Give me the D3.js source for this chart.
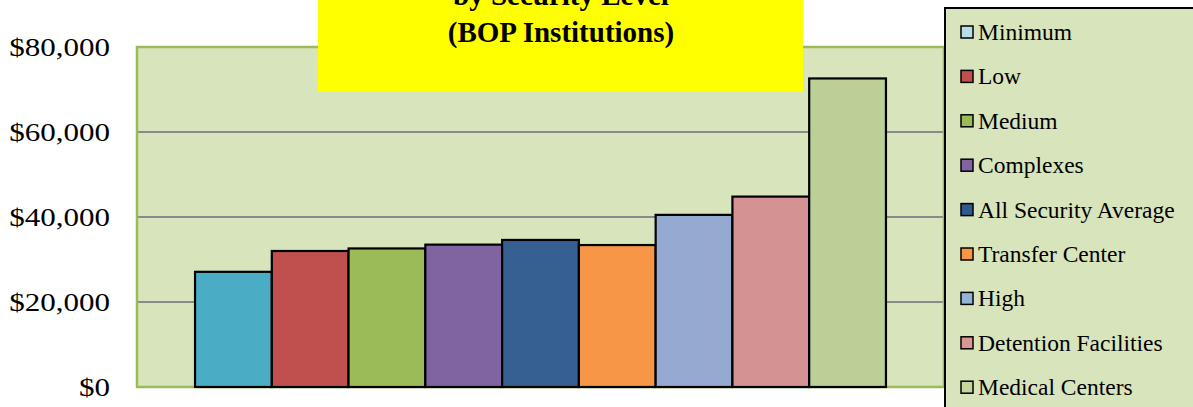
<!DOCTYPE html>
<html>
<head>
<meta charset="utf-8">
<script src="https://cdn.jsdelivr.net/npm/d3@7/dist/d3.min.js"></script>
<style>
  body { margin: 0; background: #fff; }
  svg { display: block; }
  svg text { font-family: "Liberation Serif", "Times New Roman", Times, serif; }
</style>
</head>
<body>
<div id="chart"></div>
<script>
// Data
const categories = ["BOP Institutions"];
const series = ["Minimum", "Low", "Medium", "Complexes", "All Security Average",
    "Transfer Center", "High", "Detention Facilities", "Medical Centers"];
const costs = [27100, 32000, 32600, 33500, 34600, 33400, 40500, 44800, 72600];
const yTicks = [0, 20000, 40000, 60000, 80000];
const titleLines = ["by Security Level", "(BOP Institutions)"];

// Colours of the bars and of the legend swatches
const barColors = ["#4BACC6", "#C0504D", "#9BBB59", "#8064A2", "#366092",
    "#F79646", "#95AAD1", "#D49292", "#BBCF96"];
const swatchColors = ["#B7DEE8", "#C0504D", "#9BBB59", "#8064A2", "#2F5A8E",
    "#F79646", "#95B3D7", "#D99694", "#C3D69B"];

const width = 1193, height = 407;
const plot = { left: 137, right: 944, top: 47, bottom: 387 };
const font = '"Liberation Serif", "Times New Roman", Times, serif';

const svg = d3.select("#chart")
    .append("svg")
    .attr("width", width)
    .attr("height", height);

// Scales
const y = d3.scaleLinear()
    .domain([0, 80000])
    .range([plot.bottom, plot.top]);

const x0 = d3.scaleBand()
    .domain(categories)
    .range([plot.left, plot.right])
    .paddingInner(0)
    .paddingOuter(0.084);

const x1 = d3.scaleBand()
    .domain(series)
    .range([0, x0.bandwidth()])
    .padding(0);

// Plot area background
svg.append("rect")
    .attr("x", plot.left)
    .attr("y", plot.top)
    .attr("width", plot.right - plot.left)
    .attr("height", plot.bottom - plot.top)
    .attr("fill", "#D8E4BC");

// Gridlines
svg.append("g")
    .selectAll("line")
    .data(yTicks.filter(d => d > 0 && d < 80000))
    .enter()
    .append("line")
    .attr("x1", plot.left)
    .attr("x2", plot.right)
    .attr("y1", d => y(d))
    .attr("y2", d => y(d))
    .attr("stroke", "#8A8A8A")
    .attr("stroke-width", 2);

// Plot area border
svg.append("rect")
    .attr("x", plot.left)
    .attr("y", plot.top)
    .attr("width", plot.right - plot.left)
    .attr("height", plot.bottom - plot.top)
    .attr("fill", "none")
    .attr("stroke", "#9BBB59")
    .attr("stroke-width", 2.5);

// Y axis labels (the original font is drawn a little wide)
const yAxis = svg.append("g")
    .attr("transform", `translate(110, 0)`)
    .call(d3.axisLeft(y).tickValues(yTicks).tickSize(0).tickPadding(0)
        .tickFormat(d => "$" + d3.format(",")(d)));
yAxis.attr("font-family", null);
yAxis.select(".domain").remove();
yAxis.selectAll("text")
    .style("font-family", font)
    .style("font-size", "25px")
    .attr("fill", "#000")
    .attr("dy", "0.34em")
    .each(function() {
        const w = this.getComputedTextLength();
        d3.select(this)
            .attr("textLength", w * 1.24)
            .attr("lengthAdjust", "spacingAndGlyphs");
    });

// Bars
const barData = series.map((s, i) => ({ category: categories[0], name: s, value: costs[i], color: barColors[i] }));

svg.append("g")
    .selectAll("rect")
    .data(barData)
    .enter()
    .append("rect")
    .attr("x", d => x0(d.category) + x1(d.name))
    .attr("y", d => y(d.value))
    .attr("width", x1.bandwidth())
    .attr("height", d => y(0) - y(d.value))
    .attr("fill", d => d.color)
    .attr("stroke", "#000")
    .attr("stroke-width", 2.2);

// Title box
const title = svg.append("g");
title.append("rect")
    .attr("x", 318)
    .attr("y", -10)
    .attr("width", 485)
    .attr("height", 102)
    .attr("fill", "#FFFF00");
title.selectAll("text")
    .data(titleLines)
    .enter()
    .append("text")
    .attr("x", 561)
    .attr("y", (d, i) => 5 + i * 36.7)
    .attr("text-anchor", "middle")
    .style("font-family", font)
    .style("font-weight", "bold")
    .style("font-size", "29px")
    .attr("fill", "#000")
    .text(d => d);

// Legend
const legend = svg.append("g")
    .attr("transform", "translate(945, 8)");

legend.append("rect")
    .attr("x", 0)
    .attr("y", 0)
    .attr("width", 270)
    .attr("height", 420)
    .attr("fill", "#D8E4BC")
    .attr("stroke", "#000")
    .attr("stroke-width", 2);

const legendItems = legend.selectAll(".legend-item")
    .data(series)
    .enter()
    .append("g")
    .attr("class", "legend-item")
    .attr("transform", (d, i) => `translate(0, ${24 + i * 44.4})`);

legendItems.append("rect")
    .attr("x", 16)
    .attr("y", -6)
    .attr("width", 12)
    .attr("height", 12)
    .attr("fill", (d, i) => swatchColors[i])
    .attr("stroke", "#000")
    .attr("stroke-width", 1.5);

legendItems.append("text")
    .attr("x", 33)
    .attr("y", 8)
    .style("font-family", font)
    .style("font-size", "23.5px")
    .attr("fill", "#000")
    .text(d => d);
</script>
</body>
</html>
